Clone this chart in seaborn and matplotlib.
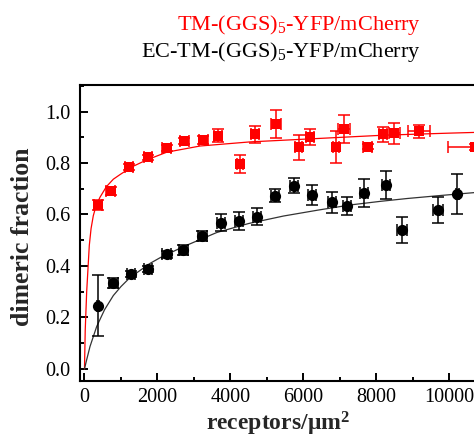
import matplotlib
matplotlib.use("Agg")
import matplotlib.pyplot as plt
import seaborn as sns
import pandas as pd
from matplotlib.ticker import MultipleLocator, FormatStrFormatter

# ---- data ----
red_x = [380, 720, 1230, 1733, 2255, 2739, 3260, 3654, 4266, 4678, 5245, 5866,
         6187, 6891, 7101, 7759, 8181, 8491, 9158, 10700]
red_y = [0.637, 0.692, 0.783, 0.822, 0.857, 0.885, 0.889, 0.906, 0.796, 0.911,
         0.950, 0.861, 0.900, 0.863, 0.932, 0.863, 0.911, 0.915, 0.924, 0.863]
red_yerr = [0.02, 0.015, 0.012, 0.01, 0.012, 0.012, 0.015, 0.025, 0.035, 0.032,
            0.054, 0.049, 0.032, 0.063, 0.054, 0.01, 0.03, 0.04, 0.025, 0.012]
red_xerr = [110, 120, 110, 110, 120, 130, 120, 110, 90, 110, 140, 100, 110, 90,
            165, 120, 110, 150, 300, 730]

black_x = [380, 791, 1267, 1751, 2255, 2711, 3233, 3736, 4239, 4723, 5226, 5748,
           6233, 6782, 7193, 7649, 8263, 8702, 9690, 10211]
black_y = [0.246, 0.333, 0.368, 0.387, 0.445, 0.462, 0.516, 0.568, 0.575, 0.592,
           0.673, 0.712, 0.676, 0.647, 0.633, 0.682, 0.715, 0.540, 0.617, 0.680]
black_yerr = [0.118, 0.02, 0.012, 0.012, 0.015, 0.02, 0.02, 0.032, 0.034, 0.034,
              0.025, 0.03, 0.039, 0.042, 0.034, 0.054, 0.054, 0.049, 0.05, 0.078]
black_xerr = [30, 120, 110, 110, 120, 120, 110, 110, 110, 110, 110, 110,
              110, 110, 110, 110, 110, 140, 140, 40]

red_fit_x = [0, 20, 60, 100, 132, 180, 241, 320, 425, 600, 790, 974, 1300, 1706,
             2255, 3169, 4540, 6370, 8198, 10000, 11000]
red_fit_y = [0, 0.15, 0.30, 0.40, 0.48, 0.545, 0.595, 0.635, 0.667, 0.708, 0.737,
             0.755, 0.785, 0.812, 0.842, 0.866, 0.882, 0.895, 0.908, 0.916, 0.92]

black_fit_x = [0, 50, 151, 335, 550, 790, 1000, 1248, 1797, 2071, 2711, 3626,
               4500, 5454, 6400, 7284, 8107, 8840, 9700, 10686, 11000]
black_fit_y = [0, 0.03, 0.087, 0.165, 0.23, 0.285, 0.32, 0.355, 0.41, 0.432,
               0.475, 0.53, 0.565, 0.594, 0.617, 0.637, 0.651, 0.662, 0.673,
               0.685, 0.688]

legend_red = "TM-(GGS)$_{\\mathrm{5}}$-YFP/mCherry"
legend_black = "EC-TM-(GGS)$_{\\mathrm{5}}$-YFP/mCherry"
x_label = "receptors/μm$^{\\mathbf{2}}$"
y_label = "dimeric fraction"

# ---- style ----
sns.set_style("ticks")
plt.rcParams["font.family"] = ["Liberation Serif", "DejaVu Serif"]
plt.rcParams["mathtext.fontset"] = "custom"
plt.rcParams["mathtext.rm"] = "Liberation Serif"
plt.rcParams["mathtext.it"] = "Liberation Serif:italic"
plt.rcParams["mathtext.bf"] = "Liberation Serif:bold"

RED = "#ff0000"
BLK = "#000000"

fig = plt.figure(figsize=(4.74, 4.38), dpi=100)
ax = fig.add_axes([80 / 474, 1 - 381 / 438, 406 / 474, 296 / 438])

red_df = pd.DataFrame({"x": red_x, "y": red_y})
blk_df = pd.DataFrame({"x": black_x, "y": black_y})
rfit = pd.DataFrame({"x": red_fit_x, "y": red_fit_y})
bfit = pd.DataFrame({"x": black_fit_x, "y": black_fit_y})

sns.lineplot(data=rfit, x="x", y="y", ax=ax, color=RED, lw=0.9,
             sort=False, estimator=None)
sns.lineplot(data=bfit, x="x", y="y", ax=ax, color="#333333", lw=0.9,
             sort=False, estimator=None)

ax.errorbar(red_x, red_y, yerr=red_yerr, xerr=red_xerr, fmt="none",
            ecolor=RED, elinewidth=1.1, capsize=4.5, capthick=1.1)
ax.errorbar(black_x, black_y, yerr=black_yerr, xerr=black_xerr, fmt="none",
            ecolor=BLK, elinewidth=1.1, capsize=4.5, capthick=1.1)

sns.scatterplot(data=red_df, x="x", y="y", ax=ax, marker="s", s=45,
                color=RED, edgecolor=RED, linewidth=0, zorder=5)
sns.scatterplot(data=blk_df, x="x", y="y", ax=ax, marker="o", s=65,
                color=BLK, edgecolor=BLK, linewidth=0, zorder=5)

ax.set_xlim(-123, 11000)
ax.set_ylim(-0.047, 1.103)
ax.xaxis.set_major_locator(MultipleLocator(2000))
ax.xaxis.set_minor_locator(MultipleLocator(1000))
ax.yaxis.set_major_locator(MultipleLocator(0.2))
ax.yaxis.set_minor_locator(MultipleLocator(0.1))
ax.yaxis.set_major_formatter(FormatStrFormatter("%.1f"))

ax.tick_params(which="both", direction="in", width=1.4, colors=BLK,
               labelsize=14.5, top=False, right=False)
ax.tick_params(which="major", length=5.5)
ax.tick_params(which="minor", length=3)
ax.tick_params(axis="y", pad=7)
ax.tick_params(axis="x", pad=5)
for s in ax.spines.values():
    s.set_linewidth(1.5)
    s.set_color(BLK)

ax.set_xlabel(x_label, fontsize=17, fontweight="bold")
ax.set_ylabel(y_label, fontsize=18.5, fontweight="bold")
ax.xaxis.label.set_va("top")
ax.yaxis.label.set_va("center")
ax.xaxis.set_label_coords((278 - 80) / 406, (381 - 410) / 296)
ax.yaxis.set_label_coords((22 - 80) / 406, (381 - 237) / 296)

fig.text(421 / 474, 1 - 25 / 438, legend_red, color=RED, fontsize=16,
         ha="right", va="center")
fig.text(421 / 474, 1 - 52 / 438, legend_black, color=BLK, fontsize=16,
         ha="right", va="center")

fig.savefig("out.png", dpi=100)
